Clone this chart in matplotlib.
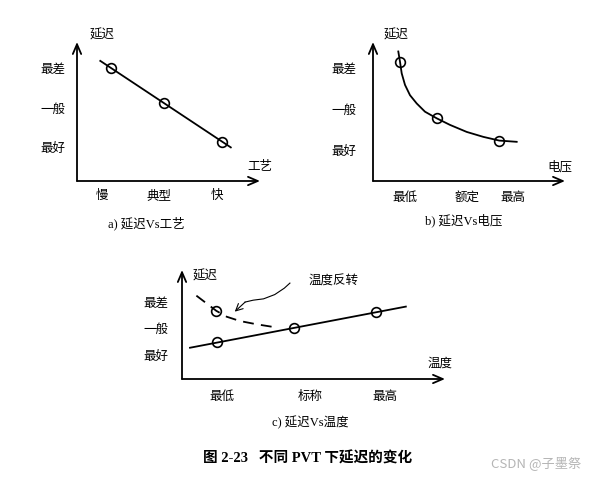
import matplotlib.pyplot as plt

plt.rcParams['font.family'] = ['Noto Sans CJK SC', 'DejaVu Sans']

# levels on the y axis (0 = best, 2 = worst)
delay_levels = [0, 1, 2]
delay_labels = ["最好", "一般", "最差"]

# a) delay vs process
proc_ticks = [0, 1, 2]
proc_labels = ["慢", "典型", "快"]
proc_line_x = [-0.03, 2.24]
proc_line_y = [2.18, -0.01]
proc_pts_x = [0.15, 1.07, 2.08]
proc_pts_y = [1.99, 1.11, 0.13]

# b) delay vs voltage
volt_ticks = [0, 1.24, 2.16]
volt_labels = ["最低", "额定", "最高"]
volt_curve_x = [-0.134, -0.10, -0.066, 0.0, 0.10, 0.234, 0.40, 0.634, 0.90, 1.234, 1.566, 1.886, 2.234]
volt_curve_y = [2.39, 2.14, 1.86, 1.58, 1.33, 1.13, 0.93, 0.77, 0.61, 0.44, 0.32, 0.23, 0.20]
volt_pts_x = [-0.10, 0.634, 1.886]
volt_pts_y = [2.14, 0.77, 0.23]

# c) delay vs temperature
temp_ticks = [0, 1.10, 2.04]
temp_labels = ["最低", "标称", "最高"]
temp_line_x = [-0.40, 2.30]
temp_line_y = [0.27, 1.81]
temp_pts_x = [-0.06, 0.90, 1.93]
temp_pts_y = [0.50, 1.00, 1.62]
inv_x = [-0.32, -0.07, 0.06, 0.225, 0.43, 0.70]
inv_y = [2.22, 1.65, 1.43, 1.27, 1.15, 1.02]
inv_pt_x = [-0.07]
inv_pt_y = [1.65]
squiggle_x = [0.85, 0.78, 0.66, 0.52, 0.39, 0.29]
squiggle_y = [2.69, 2.50, 2.26, 2.10, 2.05, 1.98]
squiggle_tip = (0.16, 1.62)

W, H = 601, 479


def make_axes(fig, x0, x1, ytop, ybot):
    return fig.add_axes([x0 / W, 1 - ybot / H, (x1 - x0) / W, (ybot - ytop) / H])


def style_axes(ax, xticks, xlabels, ypad, xpad, xlim, ylim, ylabel_pos, xlabel, xlabel_pos):
    ax.set_xlim(*xlim)
    ax.set_ylim(*ylim)
    for s in ax.spines.values():
        s.set_visible(False)
    ax.set_xticks(xticks)
    ax.set_xticklabels(xlabels, fontsize=9)
    ax.set_yticks(delay_levels)
    ax.set_yticklabels(delay_labels, fontsize=9)
    ax.tick_params(axis='y', length=0, pad=ypad)
    ax.tick_params(axis='x', length=0, pad=xpad)
    ax.patch.set_alpha(0)
    arrow = dict(arrowstyle='->,head_length=0.7,head_width=0.3', lw=1.3, color='black',
                 shrinkA=0, shrinkB=0)
    ax.annotate('', xy=(1, 0), xytext=(0, 0), xycoords='axes fraction',
                arrowprops=arrow, annotation_clip=False)
    ax.annotate('', xy=(0, 1), xytext=(0, 0), xycoords='axes fraction',
                arrowprops=arrow, annotation_clip=False)
    ax.text(ylabel_pos[0], ylabel_pos[1], "延迟", transform=ax.transAxes,
            fontsize=9, ha='center', va='center')
    ax.text(xlabel_pos[0], xlabel_pos[1], xlabel, transform=ax.transAxes,
            fontsize=9, ha='center', va='center')


fig = plt.figure(figsize=(W / 100, H / 100), dpi=100)
fig.patch.set_facecolor('white')

circle = dict(marker='o', ms=7, mfc='none', mec='black', mew=1.2, ls='none')

# a)
ax1 = make_axes(fig, 77, 260, 42, 181)
style_axes(ax1, proc_ticks, proc_labels, 8, 6, (-0.435, 2.748), (-0.861, 2.658),
           (0.135, 1.05), "工艺", (1.0, 0.103))
ax1.plot(proc_line_x, proc_line_y, color='black', lw=1.3)
ax1.plot(proc_pts_x, proc_pts_y, **circle)

# b)
ax2 = make_axes(fig, 373, 565, 42, 181)
style_axes(ax2, volt_ticks, volt_labels, 12, 7, (-0.64, 3.2), (-0.75, 2.62),
           (0.123, 1.05), "电压", (0.974, 0.103))
ax2.plot(volt_curve_x, volt_curve_y, color='black', lw=1.3, solid_joinstyle='round')
ax2.plot(volt_pts_x, volt_pts_y, **circle)

# c)
ax3 = make_axes(fig, 182, 445, 270, 379)
style_axes(ax3, temp_ticks, temp_labels, 10, 8, (-0.5, 2.79), (-0.9, 3.18),
           (0.087, 0.948), "温度", (0.981, 0.147))
ax3.plot(temp_line_x, temp_line_y, color='black', lw=1.3)
ax3.plot(temp_pts_x, temp_pts_y, **circle)
ax3.plot(inv_x, inv_y, color='black', lw=1.3, dashes=(6, 4))
ax3.plot(inv_pt_x, inv_pt_y, **circle)
ax3.plot(squiggle_x, squiggle_y, color='black', lw=0.8)
ax3.annotate('', xy=squiggle_tip, xytext=(squiggle_x[-1], squiggle_y[-1]),
             arrowprops=dict(arrowstyle='->,head_length=0.5,head_width=0.25',
                             lw=0.8, color='black', shrinkA=0, shrinkB=0))
ax3.text(1.4, 2.78, "温度反转", fontsize=9, ha='center', va='center')

# captions
cap_font = ['Liberation Serif', 'Noto Sans CJK SC']
fig.text(146.7 / W, 1 - 223 / H, "a) 延迟Vs工艺", family=cap_font, fontsize=9,
         ha='center', va='center')
fig.text(463.3 / W, 1 - 220.7 / H, "b) 延迟Vs电压", family=cap_font, fontsize=9,
         ha='center', va='center')
fig.text(310 / W, 1 - 423 / H, "c) 延迟Vs温度", family=cap_font, fontsize=9,
         ha='center', va='center')
fig.text(308 / W, 1 - 458 / H, "图 2-23   不同 PVT 下延迟的变化", family=cap_font,
         fontsize=10.5, fontweight='bold', ha='center', va='center')
fig.text(536 / W, 1 - 463 / H, "CSDN @子墨祭", fontsize=9.5, color='#b5b5b5',
         ha='center', va='center')

fig.savefig('out.png', dpi=100, facecolor='white')
